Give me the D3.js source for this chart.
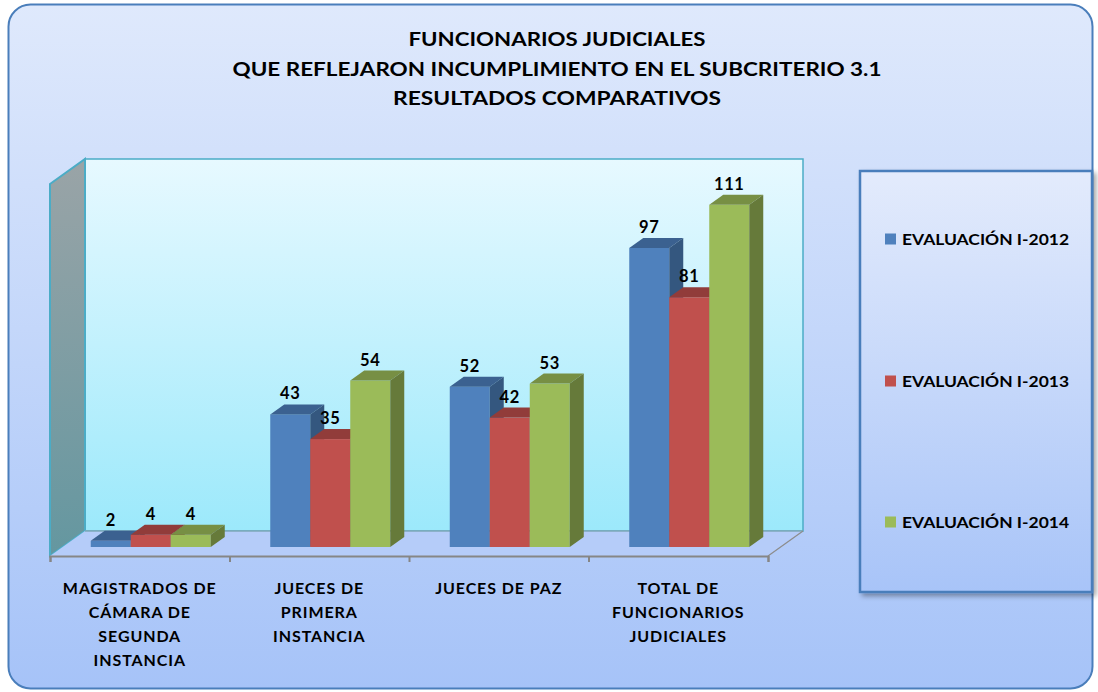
<!DOCTYPE html>
<html><head><meta charset="utf-8">
<script src="https://cdn.jsdelivr.net/npm/d3@7"></script>
<style>html,body{margin:0;padding:0;background:#fff;}svg{display:block;}</style>
</head><body>
<script>
const titleLines = ["FUNCIONARIOS JUDICIALES","QUE REFLEJARON INCUMPLIMIENTO EN EL SUBCRITERIO 3.1","RESULTADOS COMPARATIVOS"];
const categories = ["MAGISTRADOS DE CÁMARA DE SEGUNDA INSTANCIA","JUECES DE PRIMERA INSTANCIA","JUECES DE PAZ","TOTAL DE FUNCIONARIOS JUDICIALES"];
const categoryLines = [["MAGISTRADOS DE","CÁMARA DE","SEGUNDA","INSTANCIA"],["JUECES DE","PRIMERA","INSTANCIA"],["JUECES DE PAZ"],["TOTAL DE","FUNCIONARIOS","JUDICIALES"]];
const seriesNames = ["EVALUACIÓN I-2012","EVALUACIÓN I-2013","EVALUACIÓN I-2014"];
const values2012 = [2,43,52,97];
const values2013 = [4,35,42,81];
const values2014 = [4,54,53,111];
const seriesValues = [values2012, values2013, values2014];
const colors = [
  {front:"#4f81bd", top:"#3b6190", side:"#34577f"},
  {front:"#c0504d", top:"#913c3a", side:"#843634"},
  {front:"#9bbb59", top:"#778f44", side:"#667a3a"}
];

const W=1098,H=692;
const svg=d3.select("body").append("svg").attr("width",W).attr("height",H);
const defs=svg.append("defs");
function lg(id,stops){const g=defs.append("linearGradient").attr("id",id).attr("x1",0).attr("y1",0).attr("x2",0).attr("y2",1);
  stops.forEach(s=>g.append("stop").attr("offset",s[0]).attr("stop-color",s[1]));}
lg("bg",[[0,"#dfe9fc"],[1,"#a6c3f8"]]);
lg("wall",[[0,"#e7f9ff"],[1,"#9ce9fb"]]);
lg("side",[[0,"#9aa4a7"],[1,"#6497a0"]]);
lg("leg",[[0,"#e3ebfc"],[1,"#a8c4f8"]]);
const f=defs.append("filter").attr("id","sh").attr("x","-10%").attr("y","-10%").attr("width","130%").attr("height","130%");
f.append("feDropShadow").attr("dx",3).attr("dy",3).attr("stdDeviation",2.5).attr("flood-color","#000").attr("flood-opacity",0.35);

const FONT="Lato, 'Open Sans', 'DejaVu Sans', sans-serif";

// background
svg.append("rect").attr("x",8.5).attr("y",4.5).attr("width",1084).attr("height",684).attr("rx",22)
  .attr("fill","url(#bg)").attr("stroke","#4a7ebb").attr("stroke-width",2);

// title
const tY=[46,76,105], tL=[297,649,328];
titleLines.forEach((t,i)=>{
  svg.append("text").attr("x",557).attr("y",tY[i]).attr("text-anchor","middle")
   .attr("font-family",FONT).attr("font-weight","bold").attr("font-size",18).attr("fill","#000")
   .attr("textLength",tL[i]).attr("lengthAdjust","spacingAndGlyphs").text(t);
});

// 3D frame geometry
const fx0=50, fx1=768, fy=556, ddx=35, ddy=-25;
const y=d3.scaleLinear().domain([0,120]).range([547,177]);
const wallTop=159;
// back wall
svg.append("rect").attr("x",fx0+ddx).attr("y",wallTop).attr("width",fx1-fx0).attr("height",fy+ddy-wallTop)
  .attr("fill","url(#wall)").attr("stroke","#4bacc6").attr("stroke-width",1.5);
// side wall
svg.append("path").attr("d",`M${fx0},${wallTop-ddy} L${fx0+ddx},${wallTop} L${fx0+ddx},${fy+ddy} L${fx0},${fy} Z`)
  .attr("fill","url(#side)").attr("stroke","#4bacc6").attr("stroke-width",2);
// floor
svg.append("path").attr("d",`M${fx0},${fy} L${fx0+ddx},${fy+ddy} L${fx1+ddx},${fy+ddy} L${fx1},${fy} Z`)
  .attr("fill","#b5ccf9").attr("stroke","none");
svg.append("line").attr("x1",fx0+ddx).attr("x2",fx1+ddx).attr("y1",fy+ddy).attr("y2",fy+ddy).attr("stroke","#7fa9b8").attr("stroke-width",1.5);
svg.append("line").attr("x1",fx1).attr("x2",fx1+ddx).attr("y1",fy).attr("y2",fy+ddy).attr("stroke","#8c8c8c").attr("stroke-width",1.2);

// axis
const xa=d3.scaleLinear().domain([0,categories.length]).range([fx0,fx1]);
const ax=svg.append("g").attr("transform",`translate(0,${fy})`)
  .call(d3.axisBottom(xa).ticks(categories.length).tickFormat("").tickSizeOuter(0).tickSize(6));
ax.selectAll("path,line").attr("stroke","#868686").attr("stroke-width",2);

// bars
const x0=d3.scaleBand().domain(categories).range([fx0,fx1]).padding(0);
const x1=d3.scaleBand().domain(seriesNames).range([0,120]);
const groupOff=(x0.bandwidth()-120)/2+11;
const bdx=14,bdy=-10;
const barsG=svg.append("g");
categories.forEach((c,ci)=>{
  seriesNames.forEach((s,si)=>{
    const v=seriesValues[si][ci];
    const xl=x0(c)+groupOff+x1(s), xr=xl+x1.bandwidth();
    const yt=y(v), yb=y(0);
    const col=colors[si];
    barsG.append("rect").attr("x",xl).attr("y",yt).attr("width",xr-xl).attr("height",yb-yt).attr("fill",col.front);
    barsG.append("path").attr("d",`M${xl},${yt} L${xl+bdx},${yt+bdy} L${xr+bdx},${yt+bdy} L${xr},${yt} Z`).attr("fill",col.top);
    barsG.append("path").attr("d",`M${xr},${yt} L${xr+bdx},${yt+bdy} L${xr+bdx},${yb+bdy} L${xr},${yb} Z`).attr("fill",col.side);
  });
});
// value labels
categories.forEach((c,ci)=>{
  seriesNames.forEach((s,si)=>{
    const v=seriesValues[si][ci];
    const xc=x0(c)+groupOff+x1(s)+x1.bandwidth()/2;
    svg.append("text").attr("x",xc).attr("y",y(v)-15).attr("text-anchor","middle")
      .attr("font-family",FONT).attr("font-weight","bold").attr("font-size",16.5).attr("letter-spacing",0.6).attr("fill","#000").text(v);
  });
});

// category labels
categories.forEach((c,ci)=>{
  const xc=x0(c)+x0.bandwidth()/2;
  categoryLines[ci].forEach((ln,li)=>{
    svg.append("text").attr("x",xc).attr("y",594+li*24).attr("text-anchor","middle")
      .attr("font-family",FONT).attr("font-weight","bold").attr("font-size",16).attr("letter-spacing",0.9).attr("fill","#000").text(ln);
  });
});

// legend
svg.append("rect").attr("x",860).attr("y",171).attr("width",232).attr("height",421)
  .attr("fill","url(#leg)").attr("stroke","#4a7ebb").attr("stroke-width",2.5).attr("filter","url(#sh)");
const legY=[239,381,522];
seriesNames.forEach((s,i)=>{
  svg.append("rect").attr("x",885).attr("y",legY[i]-5.5).attr("width",11).attr("height",11).attr("fill",colors[i].front);
  svg.append("text").attr("x",902).attr("y",legY[i]+6).attr("font-family",FONT).attr("font-weight","bold")
    .attr("font-size",15.5).attr("fill","#000").attr("textLength",167).attr("lengthAdjust","spacingAndGlyphs").text(s);
});
</script>
</body></html>
